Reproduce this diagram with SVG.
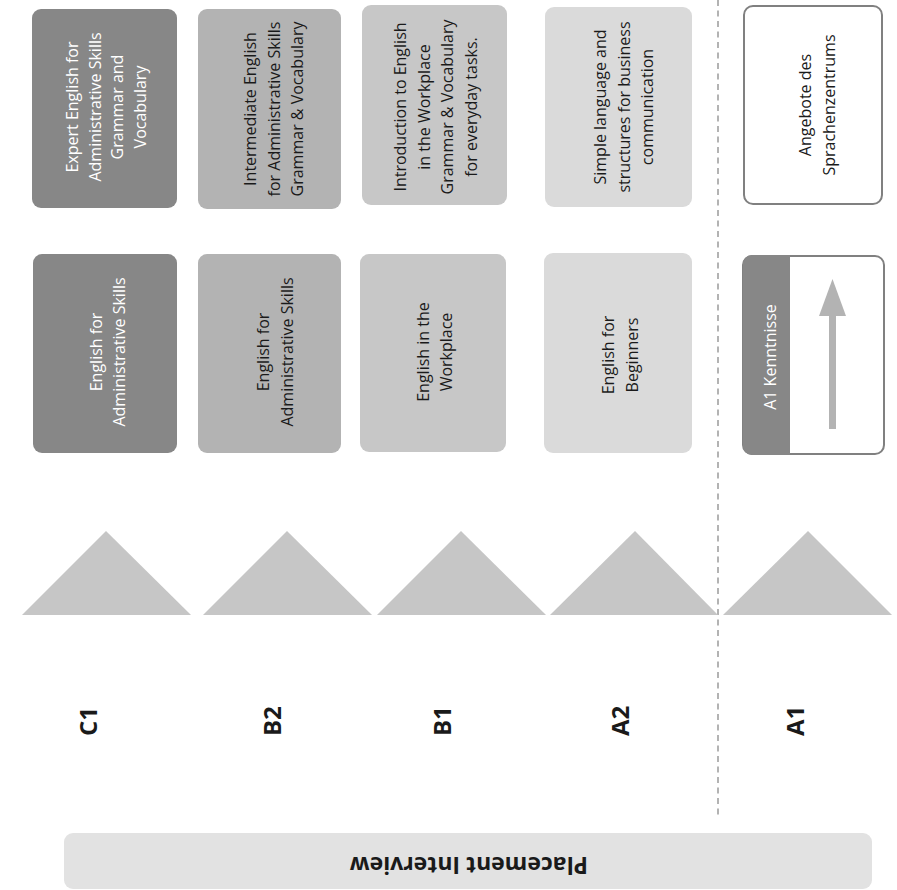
<svg xmlns="http://www.w3.org/2000/svg" width="897" height="890" viewBox="0 0 897 890">
<style>
  text { font-family: "Open Sans", "Liberation Sans", sans-serif; }
  .t { font-size: 16px; fill: #1a1a1a; text-anchor: middle; }
  .w { fill: #ffffff; }
  .lvl { font-size: 24px; font-weight: bold; fill: #1a1a1a; text-anchor: start; }
  .c1 { fill: #878787; }
  .b2 { fill: #b3b3b3; }
  .b1 { fill: #c7c7c7; }
  .a2 { fill: #dadada; }
  .tri { fill: #c6c6c6; }
  .outline { fill: #ffffff; stroke: #808080; stroke-width: 2; }
</style>

<g id="connectors">
  <line x1="718" y1="0" x2="718" y2="816" stroke="#9a9a9a" stroke-width="1.5" stroke-dasharray="6 4.5"/>
</g>

<g id="top-c1">
  <rect class="c1" x="32" y="9" width="145" height="199" rx="9"/>
  <text class="t w" transform="translate(78,107) rotate(-90)"><tspan x="0" y="0">Expert English for</tspan><tspan x="0" dy="22.7">Administrative Skills</tspan><tspan x="0" dy="22.7">Grammar and</tspan><tspan x="0" dy="22.7">Vocabulary</tspan></text>
</g>
<g id="top-b2">
  <rect class="b2" x="198" y="9" width="143" height="200" rx="9"/>
  <text class="t" transform="translate(256,109) rotate(-90)"><tspan x="0" y="0">Intermediate English</tspan><tspan x="0" dy="23.5">for Administrative Skills</tspan><tspan x="0" dy="23.5">Grammar &amp; Vocabulary</tspan></text>
</g>
<g id="top-b1">
  <rect class="b1" x="362" y="5" width="145" height="200" rx="9"/>
  <text class="t" transform="translate(406,107) rotate(-90)"><tspan x="0" y="0">Introduction to English</tspan><tspan x="0" dy="23.5">in the Workplace</tspan><tspan x="0" dy="23.5">Grammar &amp; Vocabulary</tspan><tspan x="0" dy="23.5">for everyday tasks.</tspan></text>
</g>
<g id="top-a2">
  <rect class="a2" x="545" y="7" width="147" height="200" rx="9"/>
  <text class="t" transform="translate(606,107) rotate(-90)"><tspan x="0" y="0">Simple language and</tspan><tspan x="0" dy="23.5">structures for business</tspan><tspan x="0" dy="23.5">communication</tspan></text>
</g>
<g id="top-angebote">
  <rect class="outline" x="744" y="6" width="138" height="198" rx="9"/>
  <text class="t" transform="translate(811,105) rotate(-90)"><tspan x="0" y="0">Angebote des</tspan><tspan x="0" dy="24">Sprachenzentrums</tspan></text>
</g>

<g id="mid-c1">
  <rect class="c1" x="33" y="254" width="144" height="199" rx="9"/>
  <text class="t w" transform="translate(102,352) rotate(-90)"><tspan x="0" y="0">English for</tspan><tspan x="0" dy="23">Administrative Skills</tspan></text>
</g>
<g id="mid-b2">
  <rect class="b2" x="198" y="254" width="143" height="199" rx="9"/>
  <text class="t" transform="translate(269,352) rotate(-90)"><tspan x="0" y="0">English for</tspan><tspan x="0" dy="23.5">Administrative Skills</tspan></text>
</g>
<g id="mid-b1">
  <rect class="b1" x="360" y="254" width="146" height="198" rx="9"/>
  <text class="t" transform="translate(429,352) rotate(-90)"><tspan x="0" y="0">English in the</tspan><tspan x="0" dy="23">Workplace</tspan></text>
</g>
<g id="mid-a2">
  <rect class="a2" x="544" y="253" width="148" height="200" rx="9"/>
  <text class="t" transform="translate(614,355) rotate(-90)"><tspan x="0" y="0">English for</tspan><tspan x="0" dy="24">Beginners</tspan></text>
</g>
<g id="mid-a1">
  <rect class="outline" x="743" y="256" width="141" height="198" rx="9"/>
  <path class="c1" d="M752,255 H790 V455 H752 A9,9 0 0 1 743,446 V264 A9,9 0 0 1 752,255 Z"/>
  <rect class="b2" x="829" y="312" width="7" height="117"/>
  <polygon class="b2" points="832.5,279 846,316 819,316"/>
  <text class="t w" transform="translate(776,357) rotate(-90)">A1 Kenntnisse</text>
</g>

<g id="triangles">
  <polygon class="tri" points="22,615 106,531 191,615"/>
  <polygon class="tri" points="203,615 287,531 372,615"/>
  <polygon class="tri" points="377,615 461,531 546,615"/>
  <polygon class="tri" points="550,615 635,531 718,615"/>
  <polygon class="tri" points="723,615 808,531 892,615"/>
</g>

<g id="levels">
  <text class="lvl" transform="translate(97,736) rotate(-90)">C1</text>
  <text class="lvl" transform="translate(281,736) rotate(-90)">B2</text>
  <text class="lvl" transform="translate(451,736) rotate(-90)">B1</text>
  <text class="lvl" transform="translate(629,736) rotate(-90)">A2</text>
  <text class="lvl" transform="translate(804,736) rotate(-90)">A1</text>
</g>

<g id="placement">
  <rect x="64" y="833" width="808" height="56" rx="9" fill="#e2e2e2"/>
  <text transform="translate(469,865) rotate(180)" y="8" font-size="23" font-weight="bold" fill="#1a1a1a" text-anchor="middle">Placement Interview</text>
</g>
</svg>
